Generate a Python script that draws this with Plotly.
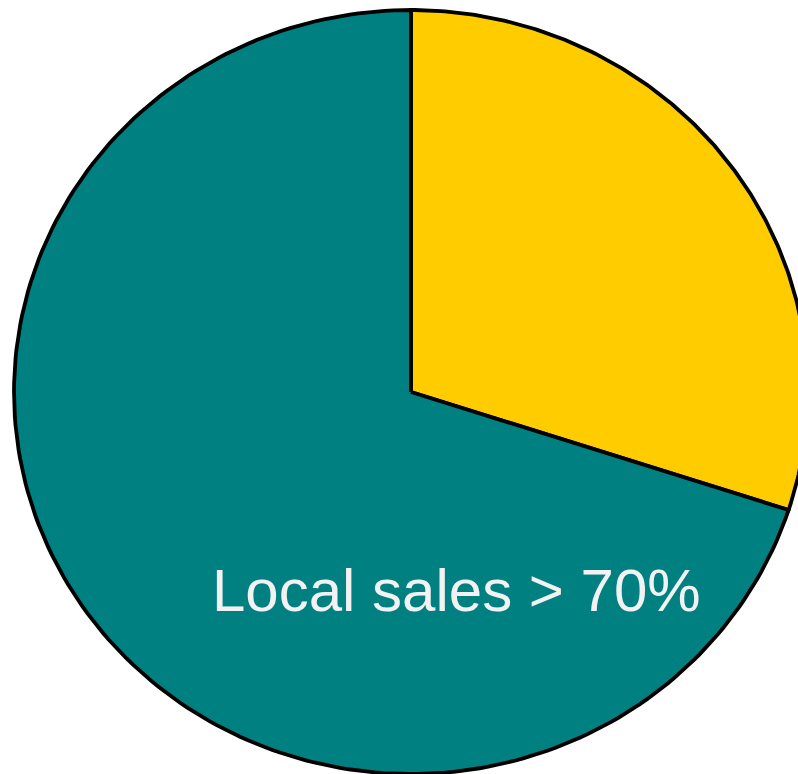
import numpy as np
import plotly.graph_objects as go

# Share of sales by channel
labels = ["Export sales", "Local sales"]
values = [30, 70]
colors = ["#FFCC00", "#008080"]

# Pie geometry in axis units (unit circle, stretched by the axis scales)
rx, ry = 1.0, 1.0

fig = go.Figure()

total = sum(values)
start = 0.0
for lab, val, col in zip(labels, values, colors):
    frac = val / total
    # angles measured clockwise from 12 o'clock
    th = np.linspace(start, start + frac, 200) * 2 * np.pi
    xs = np.concatenate([[0.0], rx * np.sin(th), [0.0]])
    ys = np.concatenate([[0.0], ry * np.cos(th), [0.0]])
    fig.add_trace(go.Scatter(
        x=xs, y=ys, mode="lines", fill="toself", fillcolor=col,
        line=dict(color="black", width=3.8), name=lab,
        hoverinfo="name", showlegend=False,
    ))
    start += frac

W, H = 798, 774
cx, cy = 411, 392          # pixel centre of the pie
px_x, px_y = 397, 382      # pixel radii
fig.update_xaxes(range=[-cx / px_x, (W - cx) / px_x], visible=False)
fig.update_yaxes(range=[-(H - cy) / px_y, cy / px_y], visible=False)

fig.add_annotation(
    x=(456 - cx) / px_x, y=(cy - 590) / px_y, xref="x", yref="y",
    text="Local sales > 70%", showarrow=False,
    font=dict(family="Liberation Sans, Arial, sans-serif", size=60, color="#F2F2F2"),
)

fig.update_layout(
    width=W, height=H, margin=dict(l=0, r=0, t=0, b=0),
    paper_bgcolor="white", plot_bgcolor="white",
)

fig.write_html("out.html")
